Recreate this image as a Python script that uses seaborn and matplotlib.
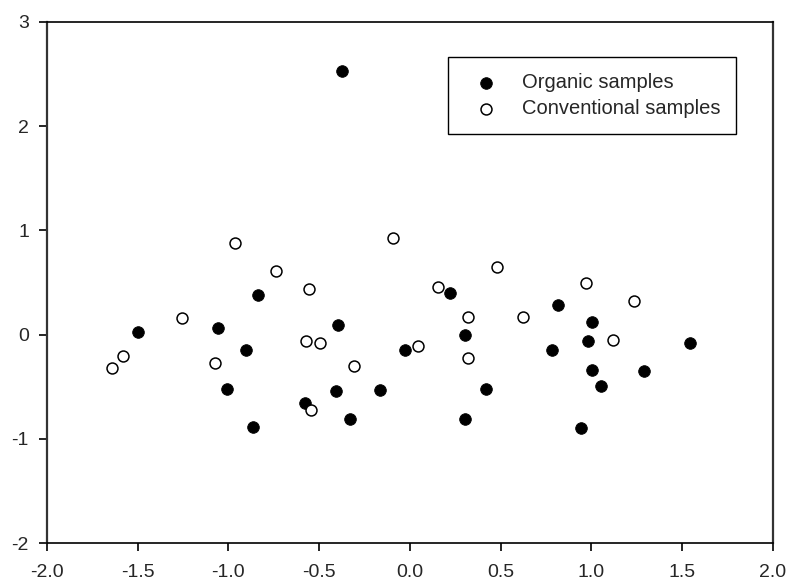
import numpy as np
import pandas as pd
import matplotlib
matplotlib.use("Agg")
import matplotlib.pyplot as plt
import seaborn as sns

# Organic samples (filled circles)
org_x = [-0.376, -0.836, -1.497, -1.056, -0.905, -1.007, -0.865, -0.395, -0.579,
         -0.408, -0.327, -0.167, 0.220, 0.817, 1.005, 0.305, -0.028, 0.984,
         1.545, 0.784, 1.005, 1.293, 1.054, 0.422, 0.305, 0.942]
org_y = [2.525, 0.384, 0.022, 0.064, -0.147, -0.524, -0.882, 0.096, -0.655,
         -0.543, -0.809, -0.534, 0.400, 0.288, 0.118, 0.000, -0.144, -0.064,
         -0.083, -0.144, -0.336, -0.345, -0.495, -0.524, -0.812, -0.892]

# Conventional samples (open circles)
conv_x = [-1.644, -1.583, -1.256, -1.074, -0.966, -0.738, -0.555, -0.575, -0.496,
          -0.307, -0.545, -0.095, 0.156, 0.483, 0.973, 1.236, 0.323, 0.625,
          0.046, 0.323, 1.122]
conv_y = [-0.316, -0.205, 0.157, -0.272, 0.876, 0.607, 0.435, -0.058, -0.077,
          -0.304, -0.722, 0.927, 0.460, 0.645, 0.492, 0.326, 0.166, 0.166,
          -0.112, -0.224, -0.051]

x_ticks = [-2.0, -1.5, -1.0, -0.5, 0.0, 0.5, 1.0, 1.5, 2.0]
y_ticks = [-2, -1, 0, 1, 2, 3]

sns.set_style("white")
plt.rcParams["font.family"] = ["Liberation Sans", "DejaVu Sans"]

fig = plt.figure(figsize=(7.9, 5.82), dpi=100)
ax = fig.add_axes([0.0595, 0.0665, 0.9185, 0.8962])

df_org = pd.DataFrame({"x": org_x, "y": org_y})
df_conv = pd.DataFrame({"x": conv_x, "y": conv_y})

sns.scatterplot(data=df_org, x="x", y="y", ax=ax, color="black", edgecolor="black",
                linewidth=0.6, s=70, label="Organic samples", zorder=3)
sns.scatterplot(data=df_conv, x="x", y="y", ax=ax, color="white", edgecolor="black",
                linewidth=1.1, s=62, label="Conventional samples", zorder=3)

ax.set_xlim(-2.0, 2.0)
ax.set_ylim(-2, 3)
ax.set_xticks(x_ticks)
ax.set_xticklabels([f"{t:.1f}" for t in x_ticks])
ax.set_yticks(y_ticks)
ax.set_yticklabels([str(t) for t in y_ticks])
ax.set_xlabel("")
ax.set_ylabel("")

ax.tick_params(axis="both", which="both", direction="out", length=6, width=1.2,
               labelsize=14, color="black", bottom=True, left=True, top=False, right=False)
ax.tick_params(axis="x", pad=9)
ax.tick_params(axis="y", pad=7)

for side in ["left", "right"]:
    ax.spines[side].set_color("#333333")
    ax.spines[side].set_linewidth(1.6)
for side in ["top", "bottom"]:
    ax.spines[side].set_color("black")
    ax.spines[side].set_linewidth(1.2)

leg = ax.legend(loc="upper left", bbox_to_anchor=(0.552, 0.932), fontsize=14.5,
                frameon=True, fancybox=False, framealpha=1, edgecolor="black",
                borderpad=0.8, handlelength=2.17, handletextpad=0.72,
                labelspacing=0.35, borderaxespad=0)
leg.get_frame().set_linewidth(1.0)

fig.savefig("out.png", dpi=100)
